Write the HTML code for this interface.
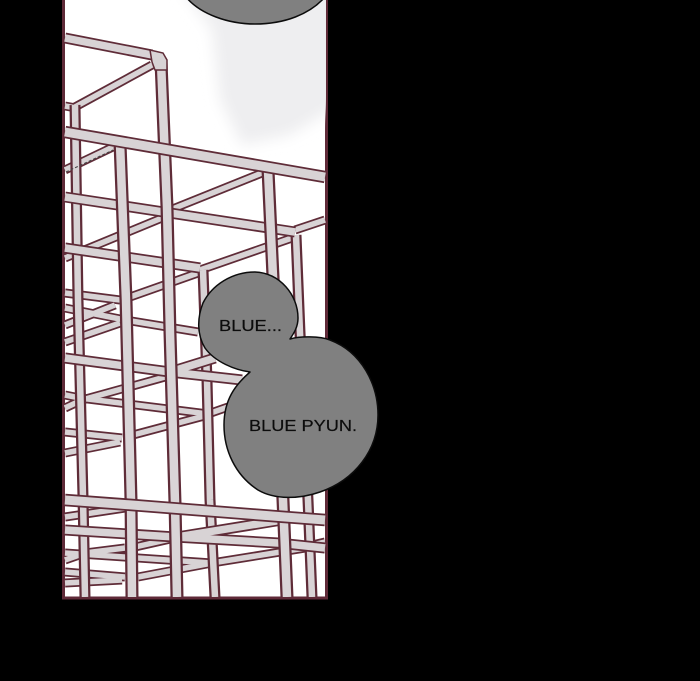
<!DOCTYPE html>
<html>
<head>
<meta charset="utf-8">
<style>
html,body{margin:0;padding:0;background:#000;width:700px;height:681px;overflow:hidden}
svg{display:block}
text{font-family:"Liberation Sans",sans-serif;fill:#0c0c0c;stroke:#0c0c0c;stroke-width:.2}
</style>
</head>
<body>
<svg width="700" height="681" viewBox="0 0 700 681" xmlns="http://www.w3.org/2000/svg">
<defs>
<filter id="b" x="-30%" y="-30%" width="160%" height="160%"><feGaussianBlur stdDeviation="7"/></filter>
<clipPath id="c"><rect x="64" y="0" width="262" height="597"/></clipPath>
<g id="back" fill="none">
<path d="M65,308L125,320L198,332"/>
<path d="M115,305L65,325"/>
<path d="M120,323L65,342"/>
<path d="M65,395L80,398L208,414L228,407"/>
<path d="M208,415L133,435"/>
<path d="M120,442L65,453"/>
<path d="M65,432L122,438"/>
<path d="M165,377L82,400L65,408"/>
<path d="M65,517L125,508"/>
<path d="M175,538L135,547"/>
<path d="M125,548L85,553L65,560"/>
<path d="M65,553L212,563L305,548"/>
<path d="M65,572L125,577"/>
<path d="M138,577L212,563"/>
<path d="M65,583L122,580"/>
<path d="M312,545L325,542"/>
<path d="M198,273L130,297"/>
<path d="M65,293L120,300"/>
<path d="M113,147L65,170"/>
<path d="M152,65L75,107"/>
<path d="M65,106L76,108"/>
<path d="M162,218L65,258"/>
<path d="M200,270L292,238"/>
<path d="M295,230L325,220"/>
<path d="M165,212L262,173"/>
</g>
<g id="vback" fill="none">
<path d="M75,105L78,300L83,497L85,597"/>
<path d="M296,235L300,333L308,500L312,597"/>
<path d="M203,270L207,380L210,500L215,597"/>
</g>
<g id="mid" fill="none">
<path d="M65,197L295,232"/>
<path d="M65,248L200,268"/>
<path d="M65,358L170,372L242,380"/>
<path d="M170,372L215,358"/>
<path d="M65,530L175,537L278,543L325,548"/>
<path d="M177,537L282,520"/>
<path d="M65,38L152,55"/>
</g>
<g id="vfront" fill="none">
<path d="M161,62L167,207L170,333L175,503L177,597"/>
<path d="M268,170L273,277L283,500L287,597"/>
<path d="M120,143L126,300L131,500L132,597"/>
</g>
<g id="front" fill="none">
<path d="M65,132L325,177"/>
<path d="M65,500L132,505L285,517L325,520"/>
</g>
</defs>

<rect width="700" height="681" fill="#000"/>
<rect x="63.5" y="-3" width="263" height="601" fill="#fff" stroke="#5f2a38" stroke-width="3"/>
<path d="M175,-20L212,30L220,100L242,145L290,135L340,105L340,-20Z" fill="#eeeef0" filter="url(#b)" clip-path="url(#c)"/>

<g clip-path="url(#c)" stroke-linecap="butt">
<use href="#back" stroke="#5f2c38" stroke-width="9"/>
<use href="#back" stroke="#d8d3d5" stroke-width="5.5"/>
<use href="#vback" stroke="#5f2c38" stroke-width="11"/>
<use href="#vback" stroke="#d8d3d5" stroke-width="6.5"/>
<use href="#mid" stroke="#5f2c38" stroke-width="11"/>
<use href="#mid" stroke="#d8d3d5" stroke-width="7.5"/>
<use href="#vfront" stroke="#5f2c38" stroke-width="13"/>
<use href="#vfront" stroke="#dad5d7" stroke-width="8.5"/>
<use href="#front" stroke="#5f2c38" stroke-width="12.5"/>
<use href="#front" stroke="#d8d3d5" stroke-width="9"/>
<path d="M150,50L163,53L167,60L167,70L155,70L152,62Z" fill="#d8d3d5" stroke="#5f2c38" stroke-width="1.5"/>
<path d="M66,172L113,150" fill="none" stroke="#444" stroke-width="1" stroke-dasharray="3 2"/>
</g>

<path d="M186,-3C200,14 228,24 255,24C285,24 310,14 325,-3Z" fill="#808080" stroke="#0c0c0c" stroke-width="1.5"/>
<path d="M290,339C300,336 320,336 330,340C362,352 378,385 378,415C378,450 355,480 320,492C300,499 275,500 258,490C235,475 224,450 224,425C224,400 235,385 250,372C235,370 215,362 205,348C197,335 197,318 203,303C212,285 232,272 255,272C280,273 298,295 298,318C298,327 294,333 290,339Z" fill="#808080" stroke="#0c0c0c" stroke-width="1.5" stroke-linejoin="round"/>

<text x="219" y="331" font-size="16" textLength="63" lengthAdjust="spacingAndGlyphs">BLUE...</text>
<text x="249" y="431" font-size="16" textLength="108" lengthAdjust="spacingAndGlyphs">BLUE PYUN.</text>
</svg>
</body>
</html>
